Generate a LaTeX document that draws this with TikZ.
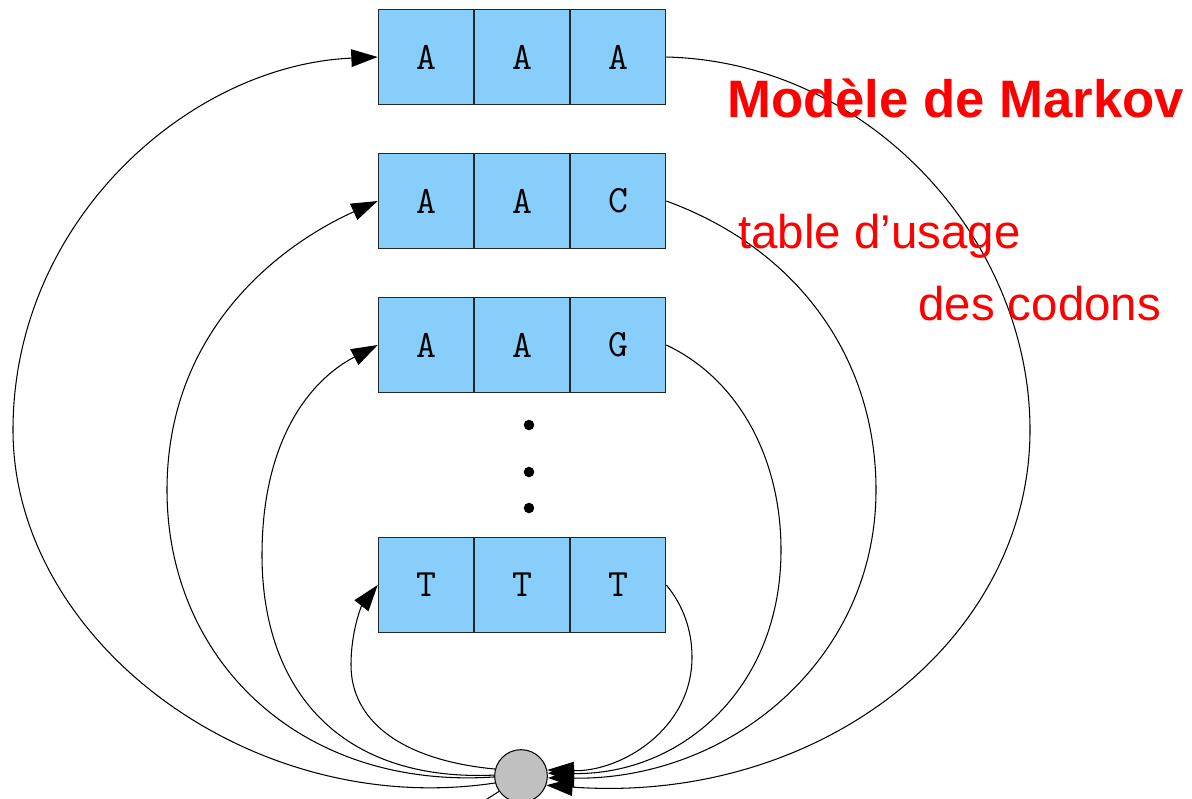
\documentclass[tikz,border=0pt]{standalone}
\usepackage{fontspec}
\setmainfont{Liberation Sans}
\usetikzlibrary{arrows.meta}
\definecolor{cellblue}{RGB}{135,206,250}
\definecolor{nodegray}{RGB}{192,192,192}
\definecolor{txtred}{RGB}{255,0,0}
\tikzset{
  cell/.style={draw=black!85, fill=cellblue, line width=0.6pt, minimum width=54.4pt, minimum height=54.4pt, inner sep=0pt, font=\ttfamily\fontsize{22}{26}\selectfont},
  hub/.style={circle, draw=black, fill=nodegray, line width=0.6pt, minimum size=30pt, inner sep=0pt},
  dotnode/.style={circle, fill=black, minimum size=6pt, inner sep=0pt},
  link/.style={line width=0.6pt, -{Triangle[length=15pt,width=10pt]}},
  plain/.style={line width=0.6pt},
  redtxt/.style={text=txtred, inner sep=0pt, anchor=base west}
}
\begin{document}
\begin{tikzpicture}[x=0.02cm,y=-0.02cm]
\useasboundingbox (0,0) rectangle (1192,798);
\clip (0,0) rectangle (1192,798);
% boxes
\node[cell] (r1c1) at (426,57) {A};
\node[cell] (r1c2) at (522,57) {A};
\node[cell] (r1c3) at (618,57) {A};
\node[cell] (r2c1) at (426,201) {A};
\node[cell] (r2c2) at (522,201) {A};
\node[cell] (r2c3) at (618,201) {C};
\node[cell] (r3c1) at (426,345) {A};
\node[cell] (r3c2) at (522,345) {A};
\node[cell] (r3c3) at (618,345) {G};
\node[cell] (r4c1) at (426,585) {T};
\node[cell] (r4c2) at (522,585) {T};
\node[cell] (r4c3) at (618,585) {T};
% dots
\node[dotnode] (d1) at (529,425) {};
\node[dotnode] (d2) at (529,472) {};
\node[dotnode] (d3) at (529,508) {};
% hub
\node[hub] (c) at (521,776) {};
\coordinate (stub) at (462,815);
% right side curves (into hub)
\draw[link] (r1c3.east) .. controls (870,62) and (1030,240) .. (1030,430)
   .. controls (1030,640) and (820,805) .. (c.-20);
\draw[link] (r2c3.east) .. controls (800,250) and (876,360) .. (876,490)
   .. controls (876,660) and (730,780) .. (c.-4);
\draw[link] (r3c3.east) .. controls (740,380) and (781,460) .. (781,550)
   .. controls (781,690) and (680,775) .. (c.6);
\draw[link] (r4c3.east) .. controls (683,605) and (692,630) .. (692,657)
   .. controls (692,730) and (620,772) .. (c.13);
% left side curves (out of hub)
\draw[link] (c.195) .. controls (250,820) and (13,640) .. (13,430)
   .. controls (13,220) and (190,65) .. (r1c1.west);
\draw[link] (c.182) .. controls (300,790) and (167,660) .. (167,490)
   .. controls (167,330) and (280,245) .. (r2c1.west);
\draw[link] (c.178) .. controls (340,782) and (262,690) .. (262,555)
   .. controls (262,440) and (310,380) .. (r3c1.west);
\draw[link] (c.165) .. controls (400,760) and (351,720) .. (351,665)
   .. controls (351,630) and (362,605) .. (r4c1.west);
% stub leaving bottom
\draw[plain] (c.-145) -- (stub);
% texts
\node[redtxt, font=\bfseries\fontsize{30}{36}\selectfont] (t1) at (727,117) {Modèle de Markov};
\node[redtxt, font=\fontsize{27}{32}\selectfont] (t2) at (738,248) {table d’usage};
\node[redtxt, font=\fontsize{27}{32}\selectfont] (t3) at (918,320) {des codons};
\end{tikzpicture}
\end{document}
